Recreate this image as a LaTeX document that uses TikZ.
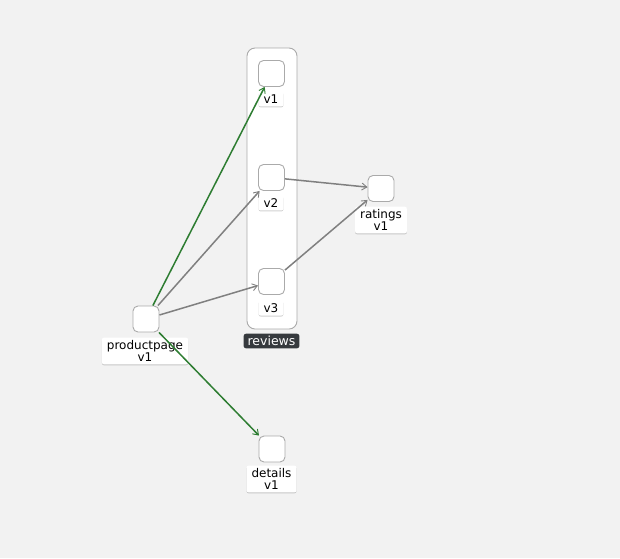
\documentclass[tikz,border=0pt]{standalone}
\usepackage{fontspec}
\setmainfont{DejaVu Sans}
\usetikzlibrary{arrows.meta,shadows}
\definecolor{bg}{HTML}{F2F2F2}
\definecolor{edgegray}{HTML}{808080}
\definecolor{edgegreen}{HTML}{2E7D32}
\definecolor{boxline}{HTML}{AAAAAA}
\definecolor{darklab}{HTML}{363A3E}
\tikzset{
  svc/.style={draw=boxline, line width=0.9pt, fill=white, rounded corners=5pt, minimum width=26pt, minimum height=26pt, inner sep=0pt},
  lab/.style={fill=white, rounded corners=2pt, inner xsep=5pt, inner ysep=3pt, align=center, font=\fontsize{12}{11.5}\selectfont, drop shadow={shadow xshift=0pt, shadow yshift=-1pt, opacity=0.18, fill=black}},
  grp/.style={draw=boxline, line width=0.9pt, fill=white, rounded corners=8pt},
  grplab/.style={fill=darklab, text=white, rounded corners=2.5pt, inner xsep=4pt, inner ysep=2.5pt, font=\fontsize{12.5}{12}\selectfont},
  e/.style={draw=edgegray, line width=1.5pt, -{Straight Barb[length=5pt,width=7pt,line width=0.9pt]}},
  eg/.style={draw=edgegreen, line width=1.5pt, -{Straight Barb[length=5pt,width=7pt,line width=0.9pt]}}
}
\begin{document}
\begin{tikzpicture}[x=1pt,y=-1pt]
\fill[bg] (0,0) rectangle (620,558);
\useasboundingbox (0,0) rectangle (620,558);
% group
\node[grp, minimum width=50pt, minimum height=281pt] (grp) at (272,188.5) {};
\node[grplab] (grpl) at (271.5,341) {reviews};
% service boxes
\node[svc] (pp) at (146,319) {};
\node[svc] (v1) at (271.5,73.5) {};
\node[svc] (v2) at (271.5,177.5) {};
\node[svc] (v3) at (271.5,281.5) {};
\node[svc] (rt) at (381,188.5) {};
\node[svc] (dt) at (272,449) {};
% labels
\node[lab] (ppl) at (145,351) {productpage\\v1};
\node[lab] (v1l) at (271,99) {v1};
\node[lab] (v2l) at (271,203) {v2};
\node[lab] (v3l) at (271,308) {v3};
\node[lab] (rtl) at (381,220) {ratings\\v1};
\node[lab] (dtl) at (271.5,479) {details\\v1};
% edges
\draw[eg] (pp) -- (v1);
\draw[e] (pp) -- (v2);
\draw[e] (pp) -- (v3);
\draw[eg] (pp) -- (dt);
\draw[e] (v2) -- (rt);
\draw[e] (v3) -- (rt);
\end{tikzpicture}
\end{document}
